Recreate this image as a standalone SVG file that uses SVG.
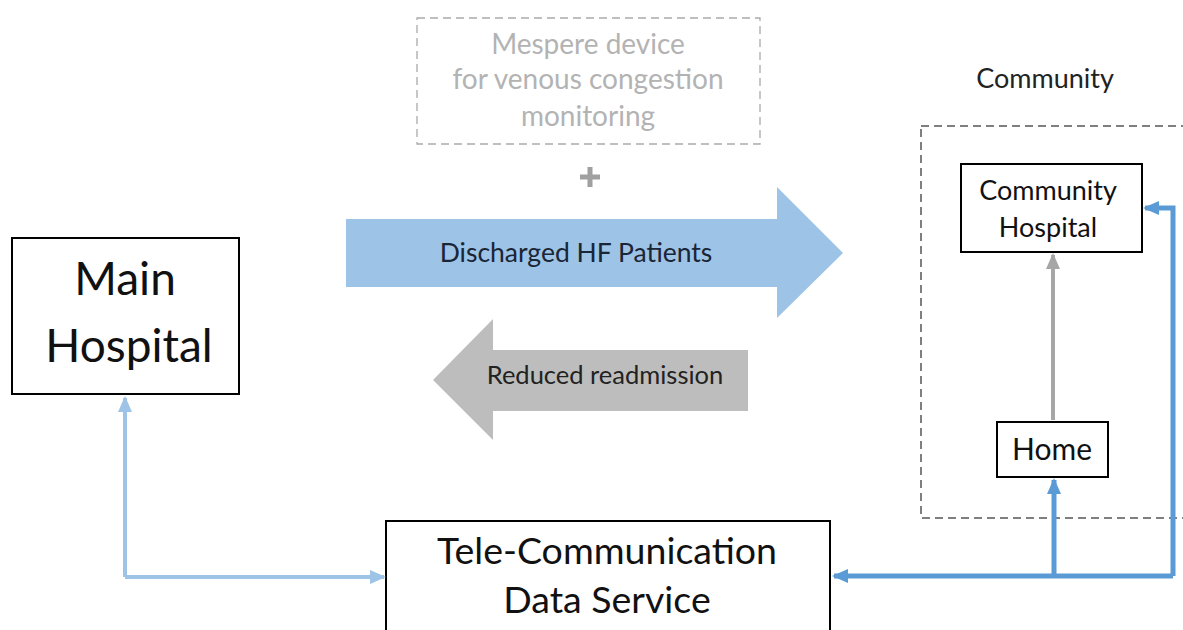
<svg xmlns="http://www.w3.org/2000/svg" width="1183" height="630" viewBox="0 0 1183 630">
<style>
text{font-family:Lato,"Liberation Sans",sans-serif;text-anchor:middle;}
.box{fill:#fff;stroke:#000;stroke-width:2;}
.dash{fill:none;stroke:#555;stroke-width:1.5;stroke-dasharray:8,5;}
.lb{fill:none;stroke:#9dc3e6;stroke-width:4;}
.db{fill:none;stroke:#5b9bd5;stroke-width:5;}
.gr{fill:none;stroke:#a6a6a6;stroke-width:4;}
</style>
<defs>
<marker id="mLB" markerUnits="userSpaceOnUse" markerWidth="16" markerHeight="16" viewBox="0 0 16 16" refX="14" refY="8" orient="auto"><path d="M0,1 L16,8 L0,15 Z" fill="#9dc3e6"/></marker>
<marker id="mDB" markerUnits="userSpaceOnUse" markerWidth="16" markerHeight="16" viewBox="0 0 16 16" refX="14" refY="8" orient="auto"><path d="M0,1 L16,8 L0,15 Z" fill="#5b9bd5"/></marker>
<marker id="mGR" markerUnits="userSpaceOnUse" markerWidth="16" markerHeight="16" viewBox="0 0 16 16" refX="14" refY="8" orient="auto"><path d="M0,1 L16,8 L0,15 Z" fill="#a6a6a6"/></marker>
</defs>
<rect width="1183" height="630" fill="#fff"/>

<g id="community-region">
<rect x="921" y="126" width="270" height="392" class="dash"/>
<text x="1045" y="88" font-size="27" fill="#222">Community</text>
</g>

<g id="mespere">
<rect x="417" y="18" width="343" height="126" fill="none" stroke="#aaa" stroke-width="1.3" stroke-dasharray="8,5"/>
<text x="588" y="54" font-size="28" fill="#b3b3b3">Mespere device</text>
<text x="588" y="89" font-size="28" fill="#b3b3b3">for venous congestion</text>
<text x="588" y="126" font-size="28" fill="#b3b3b3">monitoring</text>
</g>

<g id="plus">
<path d="M580,177 H600 M590,167 V187" stroke="#a0a0a0" stroke-width="5" fill="none"/>
</g>

<g id="discharged-arrow">
<path d="M346,219 H777 V187 L843,253 L777,318 V287 H346 Z" fill="#9dc3e6"/>
<text x="576" y="262" font-size="26.5" fill="#1a2535">Discharged HF Patients</text>
</g>

<g id="readmission-arrow">
<path d="M748,350 H493 V319 L433,380 L493,440 V411 H748 Z" fill="#bdbdbd"/>
<text x="605" y="384" font-size="25.5" fill="#222">Reduced readmission</text>
</g>

<g id="main-hospital">
<rect x="12" y="238" width="227" height="156" class="box"/>
<text x="125" y="295" font-size="46" fill="#111">Main</text>
<text x="129" y="362" font-size="46" fill="#111">Hospital</text>
</g>

<g id="telecom">
<rect x="386" y="521" width="444" height="120" class="box"/>
<text x="607" y="564" font-size="37.5" fill="#111">Tele-Communication</text>
<text x="607" y="613" font-size="37.5" fill="#111">Data Service</text>
</g>

<g id="community-hospital">
<rect x="961" y="164" width="181" height="88" class="box"/>
<text x="1048" y="200" font-size="27" fill="#111">Community</text>
<text x="1048" y="237" font-size="27" fill="#111">Hospital</text>
</g>

<g id="home">
<rect x="997" y="422" width="111" height="55" class="box"/>
<text x="1052" y="460" font-size="30" fill="#111">Home</text>
</g>

<g id="connectors">
<path d="M125,577 V398" class="lb" marker-end="url(#mLB)"/>
<path d="M125,577 H384" class="lb" marker-end="url(#mLB)"/>
<path d="M1173,576 H834" class="db" marker-end="url(#mDB)"/>
<path d="M1054,576 V480" class="db" marker-end="url(#mDB)"/>
<path d="M1173,576 V208 H1145" class="db" marker-end="url(#mDB)"/>
<path d="M1053,420 V255" class="gr" marker-end="url(#mGR)"/>
</g>
</svg>
